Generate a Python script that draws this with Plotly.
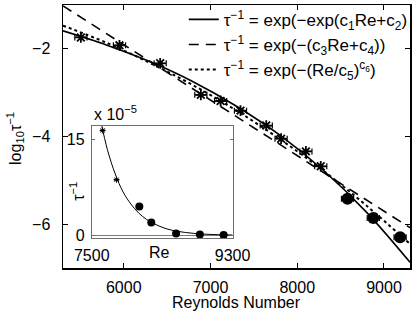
import plotly.graph_objects as go

# ---------------- data ----------------
# main panel: log10 of decay rate vs Reynolds number
re_star = [5506, 5951, 6420, 6889, 7117, 7346, 7643, 7814, 8100, 8271]
log_star = [-1.74, -1.92, -2.33, -3.05, -3.19, -3.41, -3.75, -4.05, -4.34, -4.68]
re_circ = [8580, 8877, 9186]
log_circ = [-5.42, -5.86, -6.30]
re_err = 70

# fitted curves, read at these Reynolds numbers
fit_re = [5300, 5800, 6300, 6800, 7300, 7800, 8300, 8800, 9300]
fit_dexp = [-1.59, -1.91, -2.29, -2.75, -3.31, -3.97, -4.77, -5.73, -6.87]
fit_exp = [-1.02, -1.65, -2.29, -2.92, -3.55, -4.18, -4.82, -5.45, -6.08]
fit_pow = [-1.47, -1.86, -2.32, -2.83, -3.41, -4.06, -4.78, -5.58, -6.45]

legend_names = [
    "τ<sup>−1</sup> = exp(−exp(c<sub>1</sub>Re+c<sub>2</sub>)",
    "τ<sup>−1</sup> = exp(−(c<sub>3</sub>Re+c<sub>4</sub>))",
    "τ<sup>−1</sup> = exp(−(Re/c<sub>5</sub>)<sup>c<sub>6</sub></sup>)",
]

# inset: decay rate (linear) vs Re
inset_star_re = [7639, 7817]
inset_star_tau = [16.4e-5, 8.7e-5]
inset_circ_re = [8108, 8261, 8578, 8882, 9186]
inset_circ_tau = [4.5e-5, 2.0e-5, 0.3e-5, 0.15e-5, 0.05e-5]
inset_curve_re = [7620, 7700, 7800, 7900, 8000, 8100, 8200, 8300, 8450, 8600, 8800, 9000, 9300]
inset_curve_tau = [17.6e-5, 13.4e-5, 9.6e-5, 6.8e-5, 4.9e-5, 3.5e-5, 2.5e-5, 1.8e-5,
                   1.05e-5, 0.63e-5, 0.32e-5, 0.16e-5, 0.06e-5]

main_xticks = [6000, 7000, 8000, 9000]
main_yticks = [-2, -4, -6]
inset_xticks = [7500, 9300]
inset_yticks = [0, 15e-5]
inset_yticktext = ["0", "15"]

FONT = "Liberation Sans, Arial, Helvetica, sans-serif"

fig = go.Figure()

# fitted curves
fig.add_trace(go.Scatter(x=fit_re, y=fit_dexp, mode="lines", name=legend_names[0],
                         line=dict(color="black", width=1.6, shape="spline"),
                         xaxis="x", yaxis="y"))
fig.add_trace(go.Scatter(x=fit_re, y=fit_exp, mode="lines", name=legend_names[1],
                         line=dict(color="black", width=1.6, dash="10px,7px"),
                         xaxis="x", yaxis="y"))
fig.add_trace(go.Scatter(x=fit_re, y=fit_pow, mode="lines", name=legend_names[2],
                         line=dict(color="black", width=2, dash="dot", shape="spline"),
                         xaxis="x", yaxis="y"))

# data points
fig.add_trace(go.Scatter(x=re_star, y=log_star, mode="markers", showlegend=False,
                         marker=dict(symbol="asterisk-open", size=9, color="black",
                                     line=dict(color="black", width=1.8)),
                         error_x=dict(type="constant", value=re_err, color="black",
                                      thickness=1.2, width=3),
                         xaxis="x", yaxis="y"))
fig.add_trace(go.Scatter(x=re_circ, y=log_circ, mode="markers", showlegend=False,
                         marker=dict(symbol="circle", size=12, color="black"),
                         error_x=dict(type="constant", value=re_err, color="black",
                                      thickness=1.2, width=3),
                         xaxis="x", yaxis="y"))

# inset traces
fig.add_trace(go.Scatter(x=inset_curve_re, y=inset_curve_tau, mode="lines", showlegend=False,
                         line=dict(color="black", width=1, shape="spline"),
                         xaxis="x2", yaxis="y2"))
fig.add_trace(go.Scatter(x=inset_star_re, y=inset_star_tau, mode="markers", showlegend=False,
                         marker=dict(symbol="asterisk-open", size=5, color="black",
                                     line=dict(color="black", width=1)),
                         error_x=dict(type="constant", value=25, color="black",
                                      thickness=1, width=1),
                         xaxis="x2", yaxis="y2"))
fig.add_trace(go.Scatter(x=inset_circ_re, y=inset_circ_tau, mode="markers", showlegend=False,
                         marker=dict(symbol="circle", size=8, color="black"),
                         xaxis="x2", yaxis="y2"))

axis_common = dict(showgrid=False, ticks="inside", showline=True, mirror="ticks",
                   automargin=False,
                   tickfont=dict(size=16, color="black", family=FONT))

fig.update_layout(
    template="none",
    width=415, height=312,
    margin=dict(l=63, r=2, t=2, b=44, pad=0),
    paper_bgcolor="white", plot_bgcolor="white",
    font=dict(family=FONT, size=16, color="black"),
    hovermode=False,
    xaxis=dict(domain=[0, 1], range=[5300, 9300], tickvals=main_xticks,
               ticklen=5, linecolor="black", linewidth=1.5, tickcolor="black",
               zeroline=False, ticklabelstandoff=4, **axis_common),
    yaxis=dict(domain=[0, 1], range=[-7, -1], tickvals=main_yticks,
               ticklen=5, linecolor="black", linewidth=1.5, tickcolor="black",
               zeroline=False, ticklabelstandoff=8, **axis_common),
    xaxis2=dict(domain=[0.0829, 0.4886], anchor="y2", range=[7500, 9300],
                tickvals=inset_xticks, ticklen=3, linecolor="#6e6e6e", linewidth=1,
                tickcolor="#6e6e6e", zeroline=False, ticklabelstandoff=2, **axis_common),
    yaxis2=dict(domain=[0.1128, 0.5414], anchor="x2", range=[-0.46e-5, 17.16e-5],
                tickvals=inset_yticks, ticktext=inset_yticktext, ticklen=3,
                linecolor="#6e6e6e", linewidth=1, tickcolor="#6e6e6e",
                zeroline=True, zerolinecolor="#7a7a7a", zerolinewidth=1,
                ticklabelstandoff=3, **axis_common),
    legend=dict(x=1.008, xanchor="right", y=1.012, yanchor="top", bgcolor="rgba(0,0,0,0)",
                font=dict(size=17, family=FONT, color="black"), tracegroupgap=0,
                itemwidth=30, borderwidth=0),
    showlegend=True,
    annotations=[
        dict(text="log<sub>10</sub>τ<sup>−1</sup>", xref="paper", yref="paper",
             x=-0.137, y=0.4925, textangle=-90, showarrow=False,
             xanchor="center", yanchor="middle", font=dict(size=16)),
        dict(text="Reynolds Number", xref="paper", yref="paper", x=0.5, y=-0.13,
             showarrow=False, xanchor="center", yanchor="middle", font=dict(size=16)),
        dict(text="x 10<sup>−5</sup>", xref="paper", yref="paper", x=0.083, y=0.545,
             showarrow=False, xanchor="left", yanchor="bottom", font=dict(size=16)),
        dict(text="Re", xref="paper", yref="paper", x=0.277, y=0.06,
             showarrow=False, xanchor="center", yanchor="middle", font=dict(size=16)),
        dict(text="τ<sup>−1</sup>", xref="paper", yref="paper", x=0.04, y=0.293,
             textangle=-90, showarrow=False, xanchor="center", yanchor="middle",
             font=dict(size=16)),
    ],
)

fig.write_html(
    "out.html",
    config={"displayModeBar": False, "staticPlot": True},
    post_script="document.body.style.margin='0px';document.body.style.padding='0px';",
)
